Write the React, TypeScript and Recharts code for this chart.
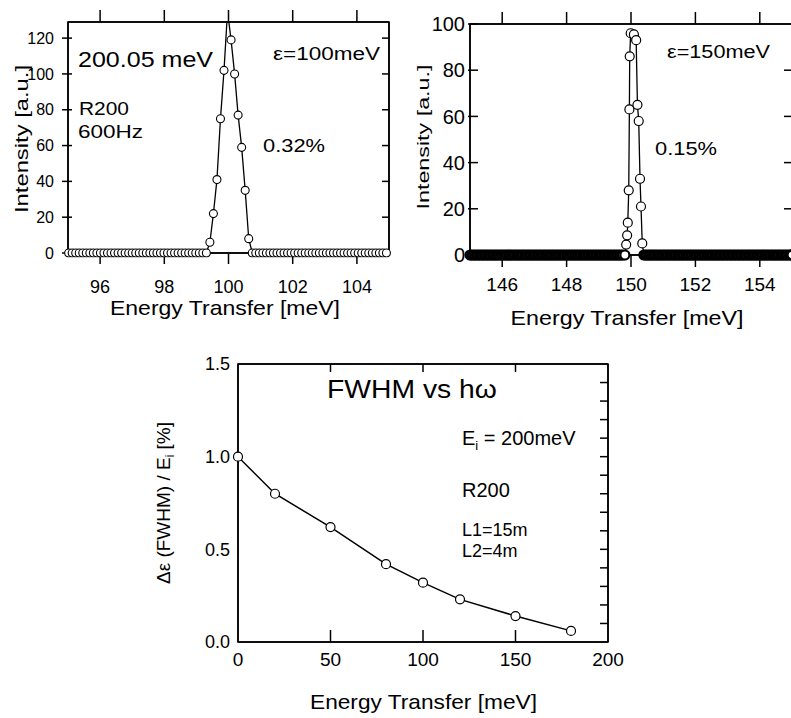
import { LineChart, Line, XAxis, YAxis, ReferenceLine, ReferenceArea } from 'recharts';

const FONT = '"Liberation Sans", Arial, Helvetica, sans-serif';

// ε = 100 meV panel: flat channels at 0 either side of the peak
const tlFlatLeftE = [
  95.02, 95.13, 95.24, 95.35, 95.46, 95.57, 95.68, 95.79, 95.9, 96.01, 96.12, 96.23, 96.34,
  96.45, 96.56, 96.67, 96.78, 96.89, 97.0, 97.11, 97.22, 97.33, 97.44, 97.55, 97.66, 97.77,
  97.88, 97.99, 98.1, 98.21, 98.32, 98.43, 98.54, 98.65, 98.76, 98.87, 98.98, 99.09, 99.2,
];
const tlPeakE = [99.31, 99.42, 99.53, 99.64, 99.75, 99.86, 99.97, 100.08, 100.19, 100.3, 100.41, 100.52, 100.63, 100.74];
const tlPeakI = [0, 6, 22, 41, 75, 102, 135, 119, 100, 77, 59, 35, 8, 0];
const tlFlatRightE = [
  100.85, 100.96, 101.07, 101.18, 101.29, 101.4, 101.51, 101.62, 101.73, 101.84, 101.95,
  102.06, 102.17, 102.28, 102.39, 102.5, 102.61, 102.72, 102.83, 102.94, 103.05, 103.16,
  103.27, 103.38, 103.49, 103.6, 103.71, 103.82, 103.93, 104.04, 104.15, 104.26, 104.37,
  104.48, 104.59, 104.7, 104.81, 104.92,
];

// ε = 150 meV panel: much finer channels
const trFlatLeftE = [
  145, 145.05, 145.1, 145.15, 145.2, 145.25, 145.3, 145.35, 145.4, 145.45, 145.5, 145.55, 145.6, 145.65, 145.7, 145.75, 145.8, 145.85, 145.9, 145.95,
  146, 146.05, 146.1, 146.15, 146.2, 146.25, 146.3, 146.35, 146.4, 146.45, 146.5, 146.55, 146.6, 146.65, 146.7, 146.75, 146.8, 146.85, 146.9, 146.95,
  147, 147.05, 147.1, 147.15, 147.2, 147.25, 147.3, 147.35, 147.4, 147.45, 147.5, 147.55, 147.6, 147.65, 147.7, 147.75, 147.8, 147.85, 147.9, 147.95,
  148, 148.05, 148.1, 148.15, 148.2, 148.25, 148.3, 148.35, 148.4, 148.45, 148.5, 148.55, 148.6, 148.65, 148.7, 148.75, 148.8, 148.85, 148.9, 148.95,
  149, 149.05, 149.1, 149.15, 149.2, 149.25, 149.3, 149.35, 149.4, 149.45, 149.5, 149.55, 149.6, 149.65, 149.7, 149.75,
];
const trPeakE = [149.81, 149.85, 149.88, 149.9, 149.93, 149.95, 149.96, 149.99, 150.09, 150.16, 150.2, 150.24, 150.28, 150.31, 150.35, 150.4];
const trPeakI = [0, 4.5, 8.5, 14, 28, 63, 86, 96, 95.5, 93, 65, 58, 33, 21, 5, 0];
const trFlatRightE = [
  150.45, 150.5, 150.55, 150.6, 150.65, 150.7, 150.75, 150.8, 150.85, 150.9, 150.95,
  151, 151.05, 151.1, 151.15, 151.2, 151.25, 151.3, 151.35, 151.4, 151.45, 151.5, 151.55, 151.6, 151.65, 151.7, 151.75, 151.8, 151.85, 151.9, 151.95,
  152, 152.05, 152.1, 152.15, 152.2, 152.25, 152.3, 152.35, 152.4, 152.45, 152.5, 152.55, 152.6, 152.65, 152.7, 152.75, 152.8, 152.85, 152.9, 152.95,
  153, 153.05, 153.1, 153.15, 153.2, 153.25, 153.3, 153.35, 153.4, 153.45, 153.5, 153.55, 153.6, 153.65, 153.7, 153.75, 153.8, 153.85, 153.9, 153.95,
  154, 154.05, 154.1, 154.15, 154.2, 154.25, 154.3, 154.35, 154.4, 154.45, 154.5, 154.55, 154.6, 154.65, 154.7, 154.75, 154.8, 154.85, 154.9, 154.95,
  155,
];

// FWHM / Ei vs energy transfer
const fwhmE = [0, 20, 50, 80, 100, 120, 150, 180];
const fwhmPct = [1.0, 0.8, 0.62, 0.42, 0.32, 0.23, 0.14, 0.06];

const tlXTicks = [96, 98, 100, 102, 104];
const tlYTicks = [0, 20, 40, 60, 80, 100, 120];
const tlRightTicks = [20, 40, 60, 80, 100, 120];
const trXTicks = [146, 148, 150, 152, 154];
const trYTicks = [0, 20, 40, 60, 80, 100];
const trRightTicks = [20, 40, 60, 80];
const fwXTicks = [0, 50, 100, 150, 200];
const fwInnerXTicks = [50, 100, 150];
const fwYTicks = [0, 0.5, 1.0, 1.5];
const fwMinorTicks = [0.1, 0.2, 0.3, 0.4, 0.5, 0.6, 0.7, 0.8, 0.9, 1.0, 1.1, 1.2, 1.3, 1.4];

type Pt = { e: number; i: number };

const zeros = (es: number[]): Pt[] => es.map((e) => ({ e, i: 0 }));
const tlData: Pt[] = [...zeros(tlFlatLeftE), ...tlPeakE.map((e, k) => ({ e, i: tlPeakI[k] })), ...zeros(tlFlatRightE)];
const trData: Pt[] = [...zeros(trFlatLeftE), ...trPeakE.map((e, k) => ({ e, i: trPeakI[k] })), ...zeros(trFlatRightE)];
const fwData = fwhmE.map((e, k) => ({ e, v: fwhmPct[k] }));

const axisLine = { stroke: '#000', strokeWidth: 1.5 };

type Edge = 'top' | 'bottom' | 'left' | 'right';

// short tick mark on one edge of the plot box; inner/outer are pixel lengths
const edgeTick = (edge: Edge, inner: number, outer: number) => (props: any) => {
  const { x1, y1, x2, y2 } = props;
  if (edge === 'top' || edge === 'bottom') {
    const yEdge = edge === 'top' ? Math.min(y1, y2) : Math.max(y1, y2);
    const dir = edge === 'top' ? -1 : 1;
    return <line x1={x1} x2={x1} y1={yEdge - dir * inner} y2={yEdge + dir * outer} stroke="#000" strokeWidth={1.5} />;
  }
  const xEdge = edge === 'left' ? Math.min(x1, x2) : Math.max(x1, x2);
  const dir = edge === 'left' ? -1 : 1;
  return <line y1={y1} y2={y1} x1={xEdge - dir * inner} x2={xEdge + dir * outer} stroke="#000" strokeWidth={1.5} />;
};

function tickMarks(values: number[], edge: Edge, inner: number, outer: number) {
  const vertical = edge === 'top' || edge === 'bottom';
  return values.map((v) =>
    vertical ? (
      <ReferenceLine key={`${edge}-${v}`} x={v} ifOverflow="visible" shape={edgeTick(edge, inner, outer)} />
    ) : (
      <ReferenceLine key={`${edge}-${v}`} y={v} ifOverflow="visible" shape={edgeTick(edge, inner, outer)} />
    ),
  );
}

// closed box round the plot area, like the original figure
function frame(xd: [number, number], yd: [number, number]) {
  return [
    <ReferenceArea
      key="box"
      x1={xd[0]}
      x2={xd[1]}
      y1={yd[0]}
      y2={yd[1]}
      fill="none"
      fillOpacity={0}
      stroke="#000"
      strokeWidth={1.5}
      strokeOpacity={1}
      ifOverflow="visible"
    />,
    <ReferenceLine key="top" y={yd[1]} stroke="#000" strokeWidth={1.5} ifOverflow="visible" />,
    <ReferenceLine key="right" x={xd[1]} stroke="#000" strokeWidth={1.5} ifOverflow="visible" />,
  ];
}

interface PanelProps {
  left: number;
  width: number;
  plot: { left: number; right: number; top: number; bottom: number };
  data: Pt[];
  xDomain: [number, number];
  xTicks: number[];
  yDomain: [number, number];
  yTicks: number[];
  rightTicks: number[];
  clipY: boolean;
  xFont: number;
  yFont: number;
  bottomTick: number;
  xTickMargin: number;
  leftTick: [number, number];
  yTickMargin: number;
  topTick: number;
  rightTick: number;
  dotR: number;
  dotStroke: number;
  baseStroke?: number;
}

function PeakPanel(p: PanelProps) {
  const height = 330;
  // channels sitting on the baseline get a heavier outline, like the scan
  const renderDot = (d: any) => {
    if (d.cx == null || d.cy == null) return <g key={d.index} />;
    return (
      <circle
        key={d.index}
        cx={d.cx}
        cy={d.cy}
        r={p.dotR}
        fill="#fff"
        stroke="#000"
        strokeWidth={d.payload.i === 0 ? p.baseStroke : p.dotStroke}
      />
    );
  };
  const dot = p.baseStroke
    ? renderDot
    : { r: p.dotR, fill: '#fff', stroke: '#000', strokeWidth: p.dotStroke, clipDot: false };
  return (
    <div style={{ position: 'absolute', left: p.left, top: 0 }}>
      <LineChart
        width={p.width}
        height={height}
        data={p.data}
        margin={{ top: p.plot.top, right: p.width - p.plot.right, bottom: height - p.plot.bottom - 30, left: 0 }}
      >
        <XAxis
          dataKey="e"
          type="number"
          domain={p.xDomain}
          ticks={p.xTicks}
          interval={0}
          height={30}
          axisLine={axisLine}
          tickLine={false}
          tickSize={p.bottomTick}
          tickMargin={p.xTickMargin}
          tick={{ fontSize: p.xFont, fill: '#000' }}
        />
        <YAxis
          type="number"
          domain={p.yDomain}
          ticks={p.yTicks}
          interval={0}
          allowDataOverflow={p.clipY}
          width={p.plot.left}
          axisLine={axisLine}
          tickLine={false}
          tickSize={-p.leftTick[0]}
          tickMargin={p.yTickMargin}
          tick={{ fontSize: p.yFont, fill: '#000' }}
        />
        {frame(p.xDomain, p.yDomain)}
        {tickMarks(p.xTicks, 'bottom', 0, p.bottomTick)}
        {tickMarks(p.xTicks, 'top', 0, p.topTick)}
        {tickMarks(p.yTicks, 'left', p.leftTick[0], p.leftTick[1])}
        {tickMarks(p.rightTicks, 'right', p.rightTick, 0)}
        <Line
          dataKey="i"
          type="linear"
          stroke="#000"
          strokeWidth={1.3}
          isAnimationActive={false}
          activeDot={false}
          dot={dot}
        />
      </LineChart>
    </div>
  );
}

export default function App() {
  return (
    <div
      style={{
        position: 'absolute',
        left: 0,
        top: 0,
        width: 791,
        height: 718,
        overflow: 'hidden',
        background: '#fff',
        fontFamily: FONT,
        color: '#000',
      }}
    >
      <PeakPanel
        left={0}
        width={400}
        plot={{ left: 68, right: 389, top: 22, bottom: 253 }}
        data={tlData}
        xDomain={[95, 105]}
        xTicks={tlXTicks}
        yDomain={[0, 129]}
        yTicks={tlYTicks}
        rightTicks={tlRightTicks}
        clipY
        xFont={18}
        yFont={16}
        bottomTick={11}
        xTickMargin={16}
        leftTick={[4, 6]}
        yTickMargin={18}
        topTick={12}
        rightTick={7}
        dotR={4}
        dotStroke={1.1}
      />
      <PeakPanel
        left={400}
        width={395}
        plot={{ left: 70, right: 392, top: 24, bottom: 255 }}
        data={trData}
        xDomain={[145, 155]}
        xTicks={trXTicks}
        yDomain={[0, 100]}
        yTicks={trYTicks}
        rightTicks={trRightTicks}
        clipY={false}
        xFont={19}
        yFont={20}
        bottomTick={12}
        xTickMargin={11}
        leftTick={[8, 2]}
        yTickMargin={13}
        topTick={12}
        rightTick={8}
        dotR={4.5}
        dotStroke={1.2}
        baseStroke={2.2}
      />

      <div style={{ position: 'absolute', left: 180, top: 340 }}>
        <LineChart width={450} height={378} data={fwData} margin={{ top: 24, right: 22, bottom: 46, left: 0 }}>
          <XAxis
            dataKey="e"
            type="number"
            domain={[0, 200]}
            ticks={fwXTicks}
            interval={0}
            height={30}
            axisLine={axisLine}
            tickLine={false}
            tickSize={0}
            tickMargin={11}
            tick={{ fontSize: 19, fill: '#000' }}
          />
          <YAxis
            type="number"
            domain={[0, 1.5]}
            ticks={fwYTicks}
            interval={0}
            width={58}
            axisLine={axisLine}
            tickLine={false}
            tickSize={0}
            tickMargin={8}
            tickFormatter={(v: number) => v.toFixed(1)}
            tick={{ fontSize: 18, fill: '#000' }}
          />
          {frame([0, 200], [0, 1.5])}
          {tickMarks(fwInnerXTicks, 'bottom', 12, 0)}
          {tickMarks(fwInnerXTicks, 'top', 8, 0)}
          {tickMarks(fwMinorTicks, 'right', 8, 0)}
          <Line
            dataKey="v"
            type="linear"
            stroke="#000"
            strokeWidth={1.5}
            isAnimationActive={false}
            activeDot={false}
            dot={{ r: 4.5, fill: '#fff', stroke: '#000', strokeWidth: 1.2 }}
          />
        </LineChart>
      </div>

      <svg
        width={791}
        height={718}
        style={{ position: 'absolute', left: 0, top: 0, pointerEvents: 'none' }}
        fontFamily={FONT}
        fill="#000"
      >
        {/* top-left panel */}
        <text x={78} y={67} fontSize={22} textLength={135} lengthAdjust="spacingAndGlyphs">200.05 meV</text>
        <text x={273} y={60} fontSize={18} textLength={107} lengthAdjust="spacingAndGlyphs">ε=100meV</text>
        <text x={79} y={115} fontSize={19} textLength={50} lengthAdjust="spacingAndGlyphs">R200</text>
        <text x={78} y={138} fontSize={19} textLength={65} lengthAdjust="spacingAndGlyphs">600Hz</text>
        <text x={263} y={152} fontSize={19} textLength={62} lengthAdjust="spacingAndGlyphs">0.32%</text>
        <text transform="translate(28,139) rotate(-90)" textAnchor="middle" fontSize={19} textLength={148} lengthAdjust="spacingAndGlyphs">
          Intensity [a.u.]
        </text>
        <text x={225} y={315} textAnchor="middle" fontSize={21} textLength={230} lengthAdjust="spacingAndGlyphs">
          Energy Transfer [meV]
        </text>

        {/* top-right panel */}
        <text x={667} y={58} fontSize={18} textLength={103} lengthAdjust="spacingAndGlyphs">ε=150meV</text>
        <text x={655} y={155} fontSize={19} textLength={62} lengthAdjust="spacingAndGlyphs">0.15%</text>
        <text transform="translate(428.5,137) rotate(-90)" textAnchor="middle" fontSize={17} textLength={145} lengthAdjust="spacingAndGlyphs">
          Intensity [a.u.]
        </text>
        <text x={627} y={325} textAnchor="middle" fontSize={21} textLength={233} lengthAdjust="spacingAndGlyphs">
          Energy Transfer [meV]
        </text>

        {/* bottom panel */}
        <text x={412} y={398} textAnchor="middle" fontSize={26} textLength={170} lengthAdjust="spacingAndGlyphs">FWHM vs hω</text>
        <text x={462} y={445} fontSize={20}>
          E<tspan fontSize={13} dy={5}>i</tspan>
          <tspan dy={-5}> = 200meV</tspan>
        </text>
        <text x={462} y={497} fontSize={20}>R200</text>
        <text x={462} y={536} fontSize={18}>L1=15m</text>
        <text x={462} y={557} fontSize={18}>L2=4m</text>
        <text transform="translate(170,503) rotate(-90)" textAnchor="middle" fontSize={19}>
          Δε (FWHM) / E<tspan fontSize={12} dy={4}>i</tspan>
          <tspan dy={-4}> [%]</tspan>
        </text>
        <text x={423.5} y={709} textAnchor="middle" fontSize={21} textLength={227} lengthAdjust="spacingAndGlyphs">
          Energy Transfer [meV]
        </text>
      </svg>
    </div>
  );
}
